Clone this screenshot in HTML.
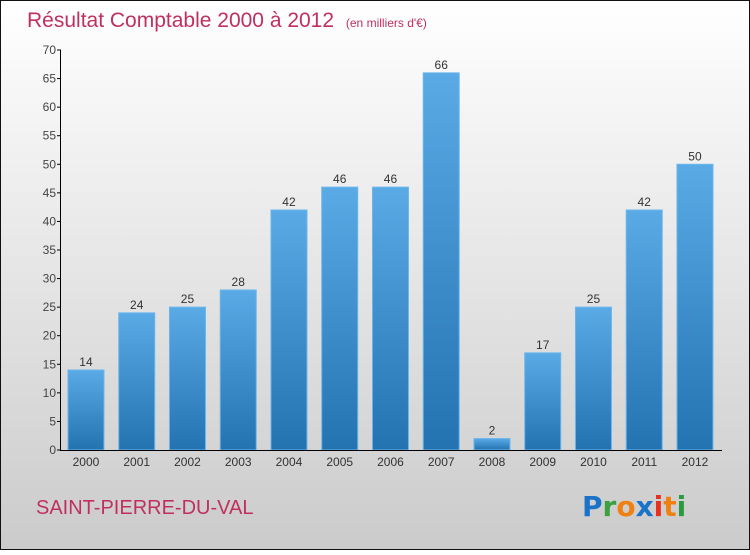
<!DOCTYPE html>
<html><head><meta charset="utf-8"><style>
body{margin:0;width:750px;height:550px;overflow:hidden;font-family:"Liberation Sans",sans-serif}
</style></head><body>
<svg width="750" height="550" xmlns="http://www.w3.org/2000/svg">
<defs>
<linearGradient id="bg" x1="0" y1="0" x2="0" y2="1"><stop offset="0" stop-color="#ffffff"/><stop offset="1" stop-color="#cbcbcb"/></linearGradient>
<linearGradient id="bar" x1="0" y1="0" x2="0" y2="1"><stop offset="0" stop-color="#5aaae6"/><stop offset="1" stop-color="#2473b1"/></linearGradient>
</defs>
<rect x="0.5" y="0.5" width="749" height="549" fill="url(#bg)" stroke="#111"/>
<text x="27" y="27" font-size="21" fill="#c0305e">Résultat Comptable 2000 à 2012 <tspan font-size="12" dx="6">(en milliers d'€)</tspan></text>
<g id="plot"></g>
<text x="36" y="514" font-size="20" fill="#c0305e">SAINT-PIERRE-DU-VAL</text>
<g font-size="28" font-weight="bold" font-family="'DejaVu Sans',sans-serif">
<text x="582" y="516"><tspan fill="#1a73c8">P</tspan><tspan fill="#3aa040">r</tspan><tspan fill="#f08010">o</tspan><tspan fill="#1a73c8">x</tspan><tspan fill="#e83020">i</tspan><tspan fill="#f08010">t</tspan><tspan fill="#2a9a40">i</tspan></text>
</g>
</svg>
<script>
const categories=["2000","2001","2002","2003","2004","2005","2006","2007","2008","2009","2010","2011","2012"];
const values=[14,24,25,28,42,46,46,66,2,17,25,42,50];
const yTicks=[0,5,10,15,20,25,30,35,40,45,50,55,60,65,70];
const NS="http://www.w3.org/2000/svg";
const g=document.getElementById('plot');
const x0=60.6,band=50.75,y0=450,yMax=70,h=400;
const y=v=>y0-v/yMax*h;
const xc=i=>x0+band*(i+0.5);
function el(t,a,txt){const e=document.createElementNS(NS,t);for(const k in a)e.setAttribute(k,a[k]);if(txt!==undefined)e.textContent=txt;g.appendChild(e);return e;}
values.forEach((v,i)=>{
 const r=el('rect',{x:xc(i)-18,y:y(v),width:36,height:y0-y(v),fill:'url(#bar)',stroke:'#6bb6ec','stroke-width':1});
 
 
 const t=el('text',{x:xc(i),y:y(v)-4,'text-anchor':'middle','font-size':12,fill:'#333'},String(v));
 
 
 const c=el('text',{x:xc(i),y:466,'text-anchor':'middle','font-size':12,fill:'#333'},categories[i]);
 
 
});
yTicks.forEach(v=>{
 const l=el('line',{x1:57,x2:61,y1:y(v),y2:y(v),stroke:'#000'});
 
 
 const t=el('text',{x:56,y:y(v)+4,'text-anchor':'end','font-size':12,fill:'#444'},String(v));
 
 
});
const ya=el('line',{x1:60.5,x2:60.5,y1:y(yMax),y2:y0,stroke:'#000'});


const xa=el('line',{x1:60,x2:722,y1:y0+0.5,y2:y0+0.5,stroke:'#000'});


</script>
</body></html>
